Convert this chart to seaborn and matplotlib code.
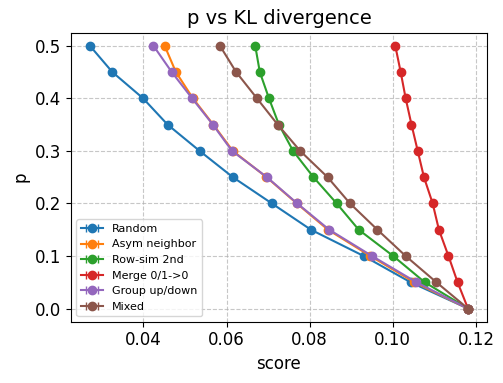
import matplotlib
matplotlib.use("Agg")
import matplotlib.pyplot as plt
import seaborn as sns

# p levels (shared y values)
p_vals = [0.5, 0.45, 0.4, 0.35, 0.3, 0.25, 0.2, 0.15, 0.1, 0.05, 0.0]

# scores per method
random_scores = [0.0271, 0.0325, 0.0399, 0.0458, 0.0535, 0.0615, 0.0709, 0.0803, 0.0930, 0.1043, 0.1181]
asym_scores = [0.0451, 0.0478, 0.0519, 0.0568, 0.0615, 0.0696, 0.0769, 0.0844, 0.0946, 0.1052, 0.1181]
rowsim_scores = [0.0669, 0.0680, 0.0702, 0.0726, 0.0760, 0.0809, 0.0865, 0.0918, 0.1001, 0.1077, 0.1181]
merge_scores = [0.1006, 0.1019, 0.1031, 0.1045, 0.1060, 0.1075, 0.1096, 0.1111, 0.1134, 0.1156, 0.1181]
group_scores = [0.0424, 0.0468, 0.0517, 0.0567, 0.0613, 0.0697, 0.0770, 0.0847, 0.0950, 0.1057, 0.1181]
mixed_scores = [0.0584, 0.0623, 0.0673, 0.0723, 0.0777, 0.0843, 0.0897, 0.0963, 0.1031, 0.1105, 0.1181]

labels = ["Random", "Asym neighbor", "Row-sim 2nd", "Merge 0/1->0", "Group up/down", "Mixed"]
series = [random_scores, asym_scores, rowsim_scores, merge_scores, group_scores, mixed_scores]

colors = sns.color_palette("tab10", len(labels))

fig, ax = plt.subplots(figsize=(5.03, 3.83), dpi=100)
for lab, xs, c in zip(labels, series, colors):
    ax.errorbar(xs, p_vals, xerr=[0.0] * len(xs), fmt="-o", color=c,
                capsize=3, label=lab)

ax.set_title("p vs KL divergence", fontsize=14)
ax.set_xlabel("score", fontsize=12)
ax.set_ylabel("p", fontsize=12)
ax.tick_params(labelsize=12)
ax.grid(True, linestyle="--", alpha=0.7)
ax.legend(fontsize=8, loc="lower left")
fig.subplots_adjust(left=0.141, right=0.968, top=0.915, bottom=0.160)
fig.savefig("out.png", dpi=100)
